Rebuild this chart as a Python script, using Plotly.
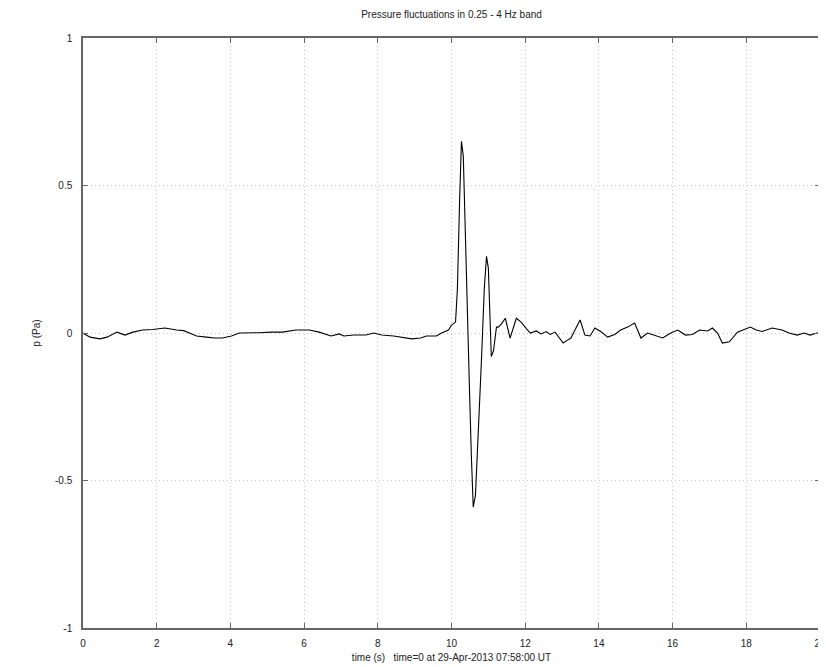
import plotly.graph_objects as go

# time (s) and pressure (Pa)
time_s = [
    0.00, 0.19, 0.46, 0.65, 0.92, 1.14, 1.35, 1.62, 1.89, 2.22, 2.54, 2.73, 2.89, 3.08,
    3.35, 3.57, 3.78, 4.03, 4.24, 4.51, 4.78, 5.11, 5.41, 5.78, 6.14, 6.41, 6.73, 6.95,
    7.08, 7.35, 7.68, 7.89, 8.11, 8.43, 8.65, 8.92, 9.16, 9.32, 9.59, 9.73, 9.92, 10.00,
    10.11, 10.16, 10.22, 10.27, 10.32, 10.38, 10.43, 10.49, 10.54, 10.59, 10.65, 10.73,
    10.81, 10.89, 10.95, 11.00, 11.05, 11.08, 11.14, 11.22, 11.27, 11.35, 11.46, 11.59,
    11.76, 11.89, 12.03, 12.14, 12.30, 12.43, 12.57, 12.68, 12.81, 12.92, 13.03, 13.14,
    13.24, 13.35, 13.49, 13.62, 13.76, 13.89, 14.05, 14.24, 14.43, 14.59, 14.78, 14.97,
    15.14, 15.32, 15.51, 15.73, 15.95, 16.14, 16.35, 16.54, 16.73, 16.95, 17.08, 17.22,
    17.35, 17.54, 17.76, 17.89, 18.11, 18.27, 18.43, 18.70, 18.97, 19.16, 19.38, 19.57,
    19.73, 19.92, 20.00,
]
pressure_pa = [
    0.000, -0.014, -0.020, -0.014, 0.003, -0.007, 0.003, 0.010, 0.012, 0.017, 0.010, 0.008,
    0.000, -0.010, -0.014, -0.017, -0.017, -0.010, 0.000, 0.000, 0.001, 0.003, 0.003, 0.010,
    0.010, 0.003, -0.010, -0.003, -0.010, -0.007, -0.007, 0.000, -0.007, -0.010, -0.014,
    -0.020, -0.017, -0.010, -0.010, 0.000, 0.010, 0.027, 0.037, 0.150, 0.450, 0.650, 0.600,
    0.300, 0.000, -0.200, -0.420, -0.590, -0.550, -0.350, -0.100, 0.150, 0.260, 0.220,
    0.050, -0.080, -0.060, 0.020, 0.020, 0.030, 0.050, -0.017, 0.050, 0.037, 0.015, 0.000,
    0.007, -0.003, 0.005, -0.005, 0.003, -0.015, -0.034, -0.025, -0.017, 0.010, 0.044,
    -0.007, -0.010, 0.017, 0.005, -0.014, -0.005, 0.010, 0.020, 0.034, -0.017, 0.000,
    -0.008, -0.017, 0.000, 0.010, -0.007, -0.005, 0.010, 0.007, 0.017, 0.000, -0.034,
    -0.030, 0.003, 0.010, 0.020, 0.010, 0.005, 0.017, 0.010, 0.000, -0.007, 0.000, -0.007,
    0.000, 0.000,
]
x_ticks = [0, 2, 4, 6, 8, 10, 12, 14, 16, 18, 20]
y_ticks = [-1, -0.5, 0, 0.5, 1]
y_tick_labels = ["-1", "-0.5", "0", "0.5", "1"]

fig = go.Figure()
fig.add_trace(go.Scatter(x=time_s, y=pressure_pa, mode="lines",
                         line=dict(color="black", width=1.1), showlegend=False))

font = dict(family="Liberation Sans, Arial, sans-serif", size=10, color="#222")
axis_common = dict(showline=True, linecolor="#666", linewidth=1.5, mirror="ticks",
                   ticks="inside", ticklen=5, tickcolor="#666",
                   showgrid=True, gridcolor="#c8c8c8", griddash="1px,3px", gridwidth=1,
                   zeroline=False, tickfont=font, automargin=False)

# page body adds an 8px offset, so the figure is sized to fit the window
fig.update_layout(
    width=818, height=659,
    paper_bgcolor="white", plot_bgcolor="white",
    margin=dict(l=75, r=6, t=30, b=39, autoexpand=False),
    title=dict(text="Pressure fluctuations in 0.25 - 4 Hz band", x=0.5, xanchor="center",
               xref="paper", yref="container", y=1 - 6 / 659, yanchor="middle",
               automargin=False,
               font=dict(family=font["family"], size=10, color="#222")),
    xaxis=dict(range=[0, 20], tickvals=x_ticks, ticktext=[str(v) for v in x_ticks],
               ticklabelstandoff=5,
               title=dict(text="time (s) &nbsp; time=0 at 29-Apr-2013 07:58:00 UT",
                          font=font, standoff=6), **axis_common),
    yaxis=dict(range=[-1, 1], tickvals=y_ticks, ticktext=y_tick_labels,
               ticklabelstandoff=7,
               title=dict(text="p (Pa)", font=font, standoff=13), **axis_common),
)

fig.write_html("out.html")
